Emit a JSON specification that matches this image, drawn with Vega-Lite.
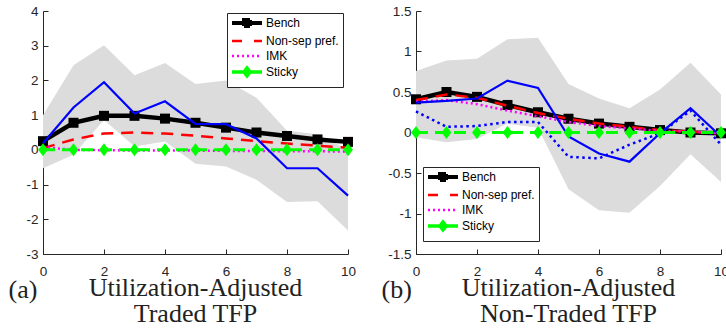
{
  "$schema": "https://vega.github.io/schema/vega-lite/v6.json",
  "background": "white",
  "autosize": {"type": "pad"},
  "padding": {"left": 8, "top": 4, "right": 0, "bottom": 0},
  "bounds": "flush",
  "spacing": 68,
  "datasets": {
    "a": [
      {"x": 0, "lo": -0.53, "hi": 1.0, "bench": 0.25, "nonsep": 0.05, "imk": 0.08, "sticky": 0, "blue": 0.19},
      {"x": 1, "lo": -0.14, "hi": 2.44, "bench": 0.78, "nonsep": 0.3, "imk": 0.0, "sticky": 0, "blue": 1.22},
      {"x": 2, "lo": 0.86, "hi": 3.01, "bench": 0.98, "nonsep": 0.47, "imk": -0.01, "sticky": 0, "blue": 1.95},
      {"x": 3, "lo": 0.1, "hi": 2.15, "bench": 0.98, "nonsep": 0.5, "imk": -0.02, "sticky": 0, "blue": 1.05},
      {"x": 4, "lo": 0.24, "hi": 2.5, "bench": 0.9, "nonsep": 0.47, "imk": -0.02, "sticky": 0, "blue": 1.4},
      {"x": 5, "lo": -0.4, "hi": 1.9, "bench": 0.78, "nonsep": 0.41, "imk": -0.02, "sticky": 0, "blue": 0.75},
      {"x": 6, "lo": -0.48, "hi": 2.0, "bench": 0.64, "nonsep": 0.33, "imk": -0.03, "sticky": 0, "blue": 0.74},
      {"x": 7, "lo": -0.86, "hi": 1.5, "bench": 0.5, "nonsep": 0.25, "imk": -0.03, "sticky": 0, "blue": 0.33},
      {"x": 8, "lo": -1.5, "hi": 0.55, "bench": 0.4, "nonsep": 0.18, "imk": -0.04, "sticky": 0, "blue": -0.53},
      {"x": 9, "lo": -1.48, "hi": 0.45, "bench": 0.3, "nonsep": 0.12, "imk": -0.04, "sticky": 0, "blue": -0.53},
      {"x": 10, "lo": -2.32, "hi": 0.0, "bench": 0.23, "nonsep": 0.06, "imk": -0.05, "sticky": 0, "blue": -1.32}
    ],
    "b": [
      {"x": 0, "lo": -0.06, "hi": 0.76, "bench": 0.41, "nonsep": 0.4, "imk": 0.38, "sticky": 0, "blue": 0.37, "blue2": 0.26},
      {"x": 1, "lo": -0.12, "hi": 0.89, "bench": 0.5, "nonsep": 0.47, "imk": 0.4, "sticky": 0, "blue": 0.39, "blue2": 0.07},
      {"x": 2, "lo": -0.08, "hi": 0.91, "bench": 0.44, "nonsep": 0.43, "imk": 0.35, "sticky": 0, "blue": 0.42, "blue2": 0.08},
      {"x": 3, "lo": 0.11, "hi": 1.15, "bench": 0.34, "nonsep": 0.33, "imk": 0.27, "sticky": 0, "blue": 0.64, "blue2": 0.13},
      {"x": 4, "lo": 0.06, "hi": 1.17, "bench": 0.25, "nonsep": 0.24, "imk": 0.2, "sticky": 0, "blue": 0.55, "blue2": 0.13},
      {"x": 5, "lo": -0.7, "hi": 0.6, "bench": 0.17, "nonsep": 0.17, "imk": 0.13, "sticky": 0, "blue": -0.05, "blue2": -0.3},
      {"x": 6, "lo": -0.96, "hi": 0.42, "bench": 0.11, "nonsep": 0.11, "imk": 0.08, "sticky": 0, "blue": -0.26, "blue2": -0.32},
      {"x": 7, "lo": -0.99, "hi": 0.3, "bench": 0.07, "nonsep": 0.07, "imk": 0.05, "sticky": 0, "blue": -0.36, "blue2": -0.15},
      {"x": 8, "lo": -0.66, "hi": 0.53, "bench": 0.03, "nonsep": 0.03, "imk": 0.02, "sticky": 0, "blue": -0.01, "blue2": -0.01},
      {"x": 9, "lo": -0.27, "hi": 0.86, "bench": 0.0, "nonsep": 0.01, "imk": 0.01, "sticky": 0, "blue": 0.3, "blue2": 0.27},
      {"x": 10, "lo": -0.61, "hi": 0.47, "bench": -0.01, "nonsep": -0.01, "imk": -0.01, "sticky": 0, "blue": -0.05, "blue2": -0.15}
    ]
  },
  "hconcat": [
    {
      "width": 305, "height": 243,
      "data": {"name": "a"},
      "title": {"text": ["Utilization-Adjusted", "Traded TFP"]},
      "encoding": {
        "x": {"field": "x", "type": "quantitative", "title": "(a)",
              "scale": {"domain": [0, 10], "nice": false, "zero": false},
              "axis": {"values": [0, 2, 4, 6, 8, 10], "tickCount": 20}}
      },
      "layer": [
        {"mark": {"type": "area", "color": "#dcdcdc", "opacity": 1},
         "encoding": {"y": {"field": "hi", "type": "quantitative", "title": null,
                            "scale": {"domain": [-3, 4], "nice": false, "zero": false},
                            "axis": {"values": [-3, -2, -1, 0, 1, 2, 3, 4], "tickCount": 20}},
                      "y2": {"field": "lo"}}},
        {"mark": {"type": "line", "strokeWidth": 4.5},
         "encoding": {"y": {"field": "bench", "type": "quantitative", "title": null},
                      "color": {"datum": "Bench", "type": "nominal",
                                "scale": {"domain": ["Bench", "Non-sep pref.", "IMK", "Sticky"], "range": ["#000000", "#ff0000", "#ff00ff", "#00ff00"]},
                                "legend": {"legendX": 184, "legendY": 2,
                                  "encode": {
                                    "symbols": {
                                      "update": {
                                        "shape": {"signal": "datum.value === 'Bench' ? 'M0,-0.78M0,0.78M-1,0H5M1.4,-0.6H2.6V0.6H1.4Z' : datum.value === 'Sticky' ? 'M0,-0.78M0,0.78M-1,0H5M2,-0.78L2.6,0L2,0.78L1.4,0Z' : 'M0,-0.78M0,0.78M-1,0H5'"},
                                        "fill": {"signal": "datum.value === 'Bench' ? '#000000' : datum.value === 'Sticky' ? '#00ff00' : 'transparent'"},
                                        "strokeWidth": {"signal": "datum.value === 'Bench' ? 4 : datum.value === 'Sticky' ? 3.5 : 2.5"},
                                        "strokeDash": {"signal": "datum.value === 'Non-sep pref.' ? [10, 12] : datum.value === 'IMK' ? [2, 3] : [1, 0]"},
                                        "opacity": {"value": 1}
                                      }
                                    }
                                  }}}}},
        {"mark": {"type": "point", "shape": "square", "filled": true, "size": 100, "color": "#000000", "opacity": 1},
         "encoding": {"y": {"field": "bench", "type": "quantitative", "title": null}}},
        {"mark": {"type": "line", "strokeWidth": 2.5, "strokeDash": [12, 8]},
         "encoding": {"y": {"field": "nonsep", "type": "quantitative", "title": null},
                      "color": {"datum": "Non-sep pref.", "type": "nominal"}}},
        {"mark": {"type": "line", "strokeWidth": 2.5, "strokeDash": [2, 3]},
         "encoding": {"y": {"field": "imk", "type": "quantitative", "title": null},
                      "color": {"datum": "IMK", "type": "nominal"}}},
        {"mark": {"type": "line", "strokeWidth": 2.2, "color": "#0000ff"},
         "encoding": {"y": {"field": "blue", "type": "quantitative", "title": null}}},
        {"mark": {"type": "line", "strokeWidth": 3, "strokeDash": [12, 7]},
         "encoding": {"y": {"field": "sticky", "type": "quantitative", "title": null},
                      "color": {"datum": "Sticky", "type": "nominal"}}},
        {"mark": {"type": "point", "shape": "M0,-1L0.75,0L0,1L-0.75,0Z", "filled": true, "size": 169, "color": "#00ff00", "opacity": 1},
         "encoding": {"y": {"field": "sticky", "type": "quantitative", "title": null}}}
      ]
    },
    {
      "width": 305, "height": 243,
      "data": {"name": "b"},
      "title": {"text": ["Utilization-Adjusted", "Non-Traded TFP"]},
      "encoding": {
        "x": {"field": "x", "type": "quantitative", "title": "(b)",
              "scale": {"domain": [0, 10], "nice": false, "zero": false},
              "axis": {"values": [0, 2, 4, 6, 8, 10], "tickCount": 20}}
      },
      "layer": [
        {"mark": {"type": "area", "color": "#dcdcdc", "opacity": 1},
         "encoding": {"y": {"field": "hi", "type": "quantitative", "title": null,
                            "scale": {"domain": [-1.5, 1.5], "nice": false, "zero": false},
                            "axis": {"values": [-1.5, -1, -0.5, 0, 0.5, 1, 1.5], "tickCount": 20}},
                      "y2": {"field": "lo"}}},
        {"mark": {"type": "line", "strokeWidth": 4.5},
         "encoding": {"y": {"field": "bench", "type": "quantitative", "title": null},
                      "color": {"datum": "Bench", "type": "nominal",
                                "scale": {"domain": ["Bench", "Non-sep pref.", "IMK", "Sticky"], "range": ["#000000", "#ff0000", "#ff00ff", "#00ff00"]},
                                "legend": {"legendX": 7, "legendY": 156,
                                  "encode": {
                                    "symbols": {
                                      "update": {
                                        "shape": {"signal": "datum.value === 'Bench' ? 'M0,-0.78M0,0.78M-1,0H5M1.4,-0.6H2.6V0.6H1.4Z' : datum.value === 'Sticky' ? 'M0,-0.78M0,0.78M-1,0H5M2,-0.78L2.6,0L2,0.78L1.4,0Z' : 'M0,-0.78M0,0.78M-1,0H5'"},
                                        "fill": {"signal": "datum.value === 'Bench' ? '#000000' : datum.value === 'Sticky' ? '#00ff00' : 'transparent'"},
                                        "strokeWidth": {"signal": "datum.value === 'Bench' ? 4 : datum.value === 'Sticky' ? 3.5 : 2.5"},
                                        "strokeDash": {"signal": "datum.value === 'Non-sep pref.' ? [10, 12] : datum.value === 'IMK' ? [2, 3] : [1, 0]"},
                                        "opacity": {"value": 1}
                                      }
                                    }
                                  }}}}},
        {"mark": {"type": "point", "shape": "square", "filled": true, "size": 100, "color": "#000000", "opacity": 1},
         "encoding": {"y": {"field": "bench", "type": "quantitative", "title": null}}},
        {"mark": {"type": "line", "strokeWidth": 2.5, "strokeDash": [12, 8]},
         "encoding": {"y": {"field": "nonsep", "type": "quantitative", "title": null},
                      "color": {"datum": "Non-sep pref.", "type": "nominal"}}},
        {"mark": {"type": "line", "strokeWidth": 2.5, "strokeDash": [2, 3]},
         "encoding": {"y": {"field": "imk", "type": "quantitative", "title": null},
                      "color": {"datum": "IMK", "type": "nominal"}}},
        {"mark": {"type": "line", "strokeWidth": 2.2, "color": "#0000ff"},
         "encoding": {"y": {"field": "blue", "type": "quantitative", "title": null}}},
        {"mark": {"type": "line", "strokeWidth": 2.5, "strokeDash": [2.5, 3.5], "color": "#0000ff"},
         "encoding": {"y": {"field": "blue2", "type": "quantitative", "title": null}}},
        {"mark": {"type": "line", "strokeWidth": 3, "strokeDash": [12, 7]},
         "encoding": {"y": {"field": "sticky", "type": "quantitative", "title": null},
                      "color": {"datum": "Sticky", "type": "nominal"}}},
        {"mark": {"type": "point", "shape": "M0,-1L0.75,0L0,1L-0.75,0Z", "filled": true, "size": 169, "color": "#00ff00", "opacity": 1},
         "encoding": {"y": {"field": "sticky", "type": "quantitative", "title": null}}}
      ]
    }
  ],
  "resolve": {
    "scale": {"color": "independent", "x": "independent", "y": "independent"},
    "legend": {"color": "independent"},
    "axis": {"x": "independent", "y": "independent"}
  },
  "config": {
    "view": {"stroke": null},
    "axis": {
      "grid": false, "domainColor": "#262626", "tickColor": "#262626", "labelColor": "#262626",
      "labelFont": "Liberation Sans", "labelFontSize": 13.5, "tickSize": -5, "domainWidth": 1, "tickWidth": 1,
      "labelFlush": false, "labelOverlap": false,
      "labelExpr": "toString(datum.value)"
    },
    "axisX": {
      "labelPadding": 15, "labelAngle": 0,
      "titleX": -35, "titleY": 43, "titleAlign": "left", "titleBaseline": "alphabetic",
      "titleFont": "Liberation Serif", "titleFontSize": 26, "titleFontWeight": "normal", "titleColor": "#222222"
    },
    "axisY": {"labelPadding": 10},
    "title": {
      "orient": "bottom", "frame": "group", "anchor": "middle", "offset": -27, "baseline": "alphabetic",
      "font": "Liberation Serif", "fontSize": 26, "fontWeight": "normal", "lineHeight": 26, "color": "#222222"
    },
    "legend": {
      "title": null, "orient": "none", "direction": "vertical",
      "fillColor": "white", "strokeColor": "#262626", "padding": 4,
      "labelFont": "Liberation Sans", "labelFontSize": 12, "labelColor": "#000000",
      "symbolSize": 100, "labelOffset": 23, "rowPadding": -4,
      "symbolStrokeWidth": 2.5
    }
  }
}
